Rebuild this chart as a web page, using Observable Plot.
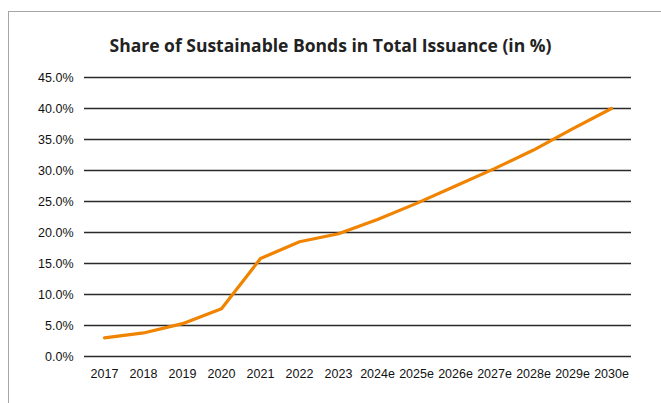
<!DOCTYPE html>
<html>
<head>
<meta charset="utf-8">
<script src="https://cdn.jsdelivr.net/npm/d3@7"></script>
<script src="https://cdn.jsdelivr.net/npm/@observablehq/plot@0.6"></script>
<style>
  html, body { margin: 0; padding: 0; background: #fff; overflow: hidden; }
  #wrap { position: relative; width: 661px; height: 403px; overflow: hidden; }
  #frame { position: absolute; left: 8px; top: 11px; width: 700px; height: 500px; border: 1px solid #a6a6a6; box-sizing: border-box; }
  #title { position: absolute; left: 0; width: 661px; top: 33px; text-align: center; font-family: "Open Sans", "Noto Sans", sans-serif; font-weight: 700; font-size: 17.5px; color: #222; }
  #chart { position: absolute; left: 0; top: 0; }
</style>
</head>
<body>
<div id="wrap">
  <div id="frame"></div>
  <div id="title">Share of Sustainable Bonds in Total Issuance (in %)</div>
  <div id="chart"></div>
</div>
<script>
const years = ["2017","2018","2019","2020","2021","2022","2023","2024e","2025e","2026e","2027e","2028e","2029e","2030e"];
const shares = [3.0, 3.8, 5.3, 7.7, 15.8, 18.5, 19.8, 22.1, 24.7, 27.5, 30.3, 33.3, 36.7, 40.0];
const yTicks = [0, 5, 10, 15, 20, 25, 30, 35, 40, 45];

const data = years.map((y, i) => ({year: y, share: shares[i]}));

const chart = Plot.plot({
  width: 661,
  height: 403,
  marginTop: 77,
  marginBottom: 47,
  marginLeft: 84,
  marginRight: 30,
  style: { background: "transparent", fontFamily: "'Liberation Sans Narrow', 'Liberation Sans', Arial, sans-serif", fontSize: "12.5px", color: "#111" },
  x: { type: "point", domain: years, padding: 0.5, label: null, tickSize: 0, tickPadding: 13 },
  y: { domain: [0, 45], ticks: yTicks, tickFormat: d => d.toFixed(1) + "%", label: null, tickSize: 0, tickPadding: 11 },
  marks: [
    Plot.ruleY(yTicks, { stroke: "#2a2a2a", strokeWidth: 1.5 }),
    Plot.line(data, { x: "year", y: "share", stroke: "#F08300", strokeWidth: 3.2, strokeLinejoin: "round", strokeLinecap: "round" })
  ]
});
document.getElementById("chart").appendChild(chart);
</script>
</body>
</html>
